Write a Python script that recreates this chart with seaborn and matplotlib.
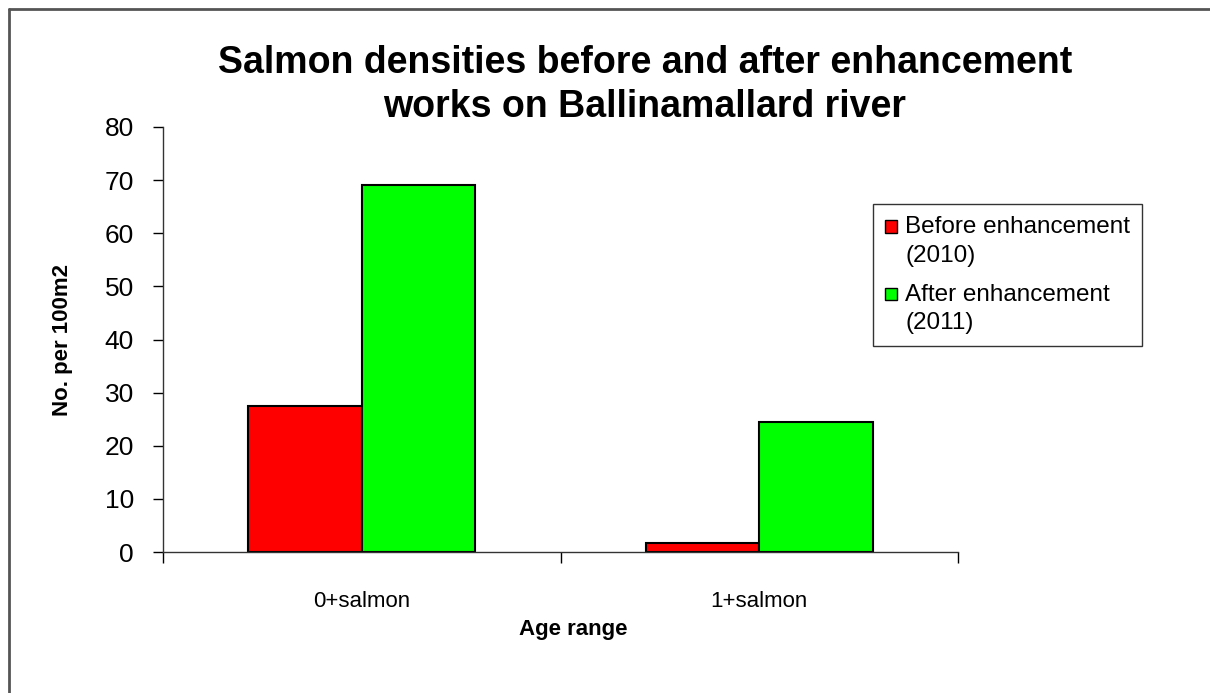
import pandas as pd
import numpy as np
import matplotlib
matplotlib.use("Agg")
import matplotlib.pyplot as plt
from matplotlib.lines import Line2D
from matplotlib.patches import Rectangle
from matplotlib.legend_handler import HandlerBase
import seaborn as sns

# values
categories = ["0+salmon", "1+salmon"]
series = ["Before enhancement\n(2010)", "After enhancement\n(2011)"]
before = [27.5, 1.7]
after = [69.0, 24.5]
yticks = [0, 10, 20, 30, 40, 50, 60, 70, 80]
colors = ["#FF0000", "#00FF00"]

df = pd.DataFrame({
    "Age range": categories * 2,
    "Series": [series[0]] * 2 + [series[1]] * 2,
    "Value": before + after,
})

sns.set_style("white")
plt.rcParams['font.family'] = ['Liberation Sans', 'DejaVu Sans']
plt.rcParams['text.color'] = 'black'
plt.rcParams['axes.labelcolor'] = 'black'
plt.rcParams['xtick.color'] = 'black'
plt.rcParams['ytick.color'] = 'black'


# legend square sitting on the first line of a two-line label
class TopSquare(HandlerBase):
    def create_artists(self, legend, orig_handle, xdescent, ydescent,
                       width, height, fontsize, trans):
        size = width
        y = -ydescent + height - size
        r = Rectangle((-xdescent, y), size, size, facecolor=orig_handle.get_facecolor(),
                      edgecolor="black", linewidth=1, transform=trans)
        return [r]


fig = plt.figure(figsize=(12.1, 6.93), dpi=100)
ax = fig.add_axes([163 / 1210, 1 - 552 / 693, (958 - 163) / 1210, (552 - 127) / 693])

sns.barplot(data=df, x="Age range", y="Value", hue="Series", order=categories,
            hue_order=series, palette=colors, width=0.57,
            edgecolor="black", linewidth=1.5, saturation=1, ax=ax)

ax.set_xlim(-0.5, 1.5)
ax.set_ylim(0, 80)
ax.set_yticks(yticks)
ax.tick_params(axis="y", labelsize=19, length=7, width=1, direction="out", left=True, pad=14)
ax.set_xticks([0, 1])
ax.set_xticklabels(categories, fontsize=16)
ax.tick_params(axis="x", which="major", length=0, pad=28)
ax.set_xticks([-0.5, 0.5, 1.5], minor=True)
ax.tick_params(axis="x", which="minor", length=8, width=1, direction="out", bottom=True)
for s in ["top", "right"]:
    ax.spines[s].set_visible(False)
for s in ["left", "bottom"]:
    ax.spines[s].set_color("#333333")
    ax.spines[s].set_linewidth(1)

ax.set_xlabel("Age range", fontsize=16, fontweight="bold")
ax.xaxis.set_label_coords((573 - 163) / 795, -(619 - 552) / 425)
ax.set_ylabel("No. per 100m2", fontsize=16, fontweight="bold")
ax.yaxis.set_label_coords((73 - 163) / 795, 0.5)

fig.text(645 / 1210, 1 - 85 / 693, "Salmon densities before and after enhancement\nworks on Ballinamallard river",
         ha="center", va="center", fontsize=27, fontweight="bold", linespacing=1.3)

handles = [plt.Rectangle((0, 0), 1, 1, facecolor=c) for c in colors]
leg = ax.legend(handles, series, loc="upper left", bbox_to_anchor=(873 / 1210, 1 - 204 / 693),
                bbox_transform=fig.transFigure, borderaxespad=0, fontsize=17.5,
                frameon=True, fancybox=False, edgecolor="black", handlelength=0.5,
                handleheight=2.4, handletextpad=0.33, labelspacing=0.7, borderpad=0.5,
                handler_map={plt.Rectangle: TopSquare()})
leg.get_frame().set_linewidth(1)
for t in leg.get_texts():
    t.set_linespacing(1.38)

# figure border (left and top edges)
fig.add_artist(Line2D([9 / 1210, 9 / 1210], [0, 1 - 9 / 693], transform=fig.transFigure,
                      color="#555555", linewidth=2))
fig.add_artist(Line2D([9 / 1210, 1], [1 - 9 / 693, 1 - 9 / 693], transform=fig.transFigure,
                      color="#555555", linewidth=2))

fig.savefig("out.png", dpi=100)
